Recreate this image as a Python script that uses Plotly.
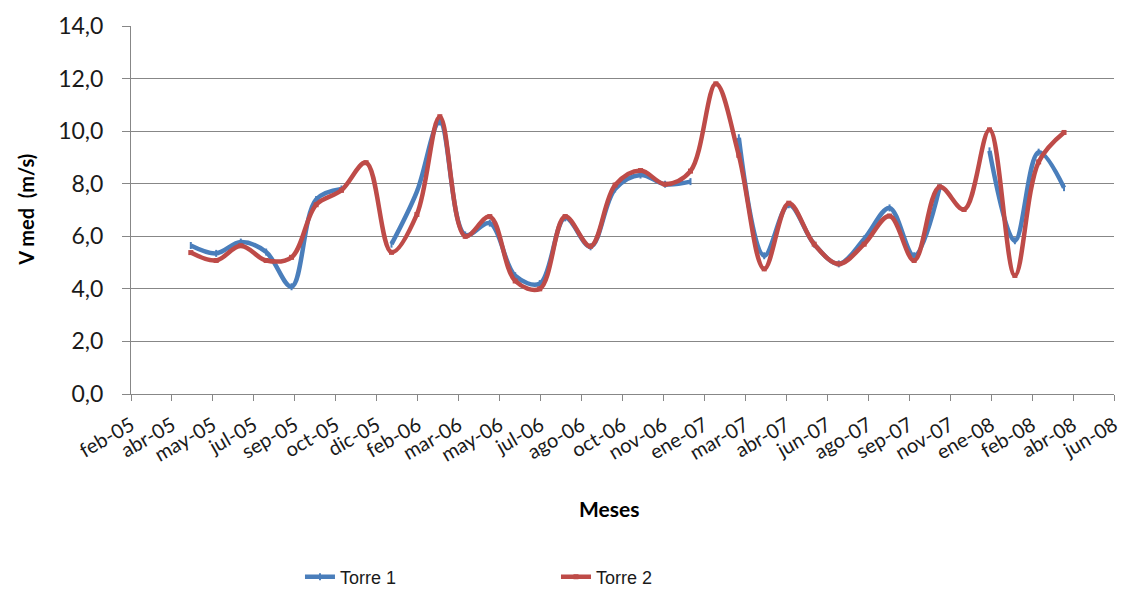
import pandas as pd
import plotly.graph_objects as go

# Monthly mean wind speed (m/s) at two measurement towers
months = [
    "2005-05-01", "2005-06-01", "2005-07-01", "2005-08-01", "2005-09-01", "2005-10-01",
    "2005-11-01", "2005-12-01", "2006-01-01", "2006-02-01", "2006-03-01", "2006-04-01",
    "2006-05-01", "2006-06-01", "2006-07-01", "2006-08-01", "2006-09-01", "2006-10-01",
    "2006-11-01", "2006-12-01", "2007-01-01", "2007-02-01", "2007-03-01", "2007-04-01",
    "2007-05-01", "2007-06-01", "2007-07-01", "2007-08-01", "2007-09-01", "2007-10-01",
    "2007-11-01", "2007-12-01", "2008-01-01", "2008-02-01", "2008-03-01", "2008-04-01",
]

torre_1 = [
    5.65, 5.35, 5.78, 5.40, 4.08, 7.40,
    7.80, None, 5.70, 7.70, 10.35, 6.05,
    6.50, 4.50, 4.20, 6.70, 5.60, 7.80,
    8.33, 7.98, 8.08, None, 9.75, 5.26,
    7.20, 5.70, 4.95, 5.90, 7.08, 5.26,
    7.85, None, 9.25, 5.83, 9.20, 7.85,
]

torre_2 = [
    5.38, 5.08, 5.64, 5.08, 5.20, 7.20,
    7.75, 8.80, 5.39, 6.83, 10.55, 6.00,
    6.75, 4.30, 4.00, 6.75, 5.62, 7.95,
    8.50, 7.98, 8.48, 11.80, 9.08, 4.76,
    7.26, 5.70, 4.95, 5.70, 6.77, 5.08,
    7.88, 7.02, 10.05, 4.51, 8.83, 9.95,
]

# Date axis: major unit of 50 days starting mid-February 2005
tick_labels = [
    "feb-05", "abr-05", "may-05", "jul-05", "sep-05", "oct-05", "dic-05",
    "feb-06", "mar-06", "may-06", "jul-06", "ago-06", "oct-06", "nov-06",
    "ene-07", "mar-07", "abr-07", "jun-07", "ago-07", "sep-07", "nov-07",
    "ene-08", "feb-08", "abr-08", "jun-08",
]
tick_dates = pd.date_range("2005-02-17", periods=len(tick_labels), freq="50D")

BLUE = "#4A7EBB"
RED = "#BE4B48"
GRID = "#878787"
TEXT = "#1a1a1a"

fig = go.Figure()
fig.add_trace(go.Scatter(
    x=months, y=torre_1, name="Torre 1", mode="lines+markers",
    line=dict(color=BLUE, width=4.5, shape="spline", smoothing=1.0),
    marker=dict(symbol="line-ns", size=5, color=BLUE, line=dict(color=BLUE, width=2)),
    connectgaps=False,
))
fig.add_trace(go.Scatter(
    x=months, y=torre_2, name="Torre 2", mode="lines+markers",
    line=dict(color=RED, width=4.5, shape="spline", smoothing=1.0),
    marker=dict(symbol="square", size=5, color=RED),
    connectgaps=False,
))

fig.update_layout(
    width=1132, height=593,
    margin=dict(l=131, r=11, t=22, b=199),
    paper_bgcolor="white", plot_bgcolor="white",
    separators=",.",
    font=dict(family="Lato, Open Sans, sans-serif", color=TEXT),
    showlegend=True,
    legend=dict(
        orientation="h", xref="container", yref="container",
        x=0.265, y=(593 - 577) / 593, xanchor="left", yanchor="middle",
        font=dict(family="Liberation Sans Narrow, Liberation Sans, Arial", size=18, color=TEXT),
        entrywidth=211, entrywidthmode="pixels", bgcolor="rgba(0,0,0,0)",
    ),
    xaxis=dict(
        type="date",
        range=[tick_dates[0], tick_dates[-1]],
        tickmode="array", tickvals=tick_dates, ticktext=tick_labels,
        tickangle=-30, tickfont=dict(size=20, color=TEXT),
        ticklabelstandoff=5,
        showgrid=False, zeroline=False,
        showline=True, linecolor=GRID, linewidth=1,
        ticks="outside", ticklen=6, tickcolor=GRID,
    ),
    yaxis=dict(
        range=[0, 14], dtick=2, tickformat=".1f",
        tickfont=dict(size=23, color=TEXT),
        ticklabelstandoff=14,
        showgrid=True, gridcolor=GRID, gridwidth=1,
        zeroline=False, showline=True, linecolor=GRID, linewidth=1,
        ticks="outside", ticklen=8, tickcolor=GRID,
    ),
)

# Axis titles placed as free annotations
fig.add_annotation(
    text="<b>V med  (m/s)</b>", xref="paper", yref="paper",
    x=-(131 - 25) / (1132 - 131 - 11), y=0.5, textangle=-90,
    xanchor="center", yanchor="middle", showarrow=False,
    font=dict(size=20, color="#000000", family="Lato, Open Sans, sans-serif"),
)
fig.add_annotation(
    text="<b>Meses</b>", xref="paper", yref="paper",
    x=(612 - 131) / (1132 - 131 - 11), y=-(510 - 394) / (593 - 22 - 199),
    xanchor="center", yanchor="middle", showarrow=False,
    font=dict(size=21, color="#000000", family="Lato, Open Sans, sans-serif"),
)

fig.write_html("out.html")
